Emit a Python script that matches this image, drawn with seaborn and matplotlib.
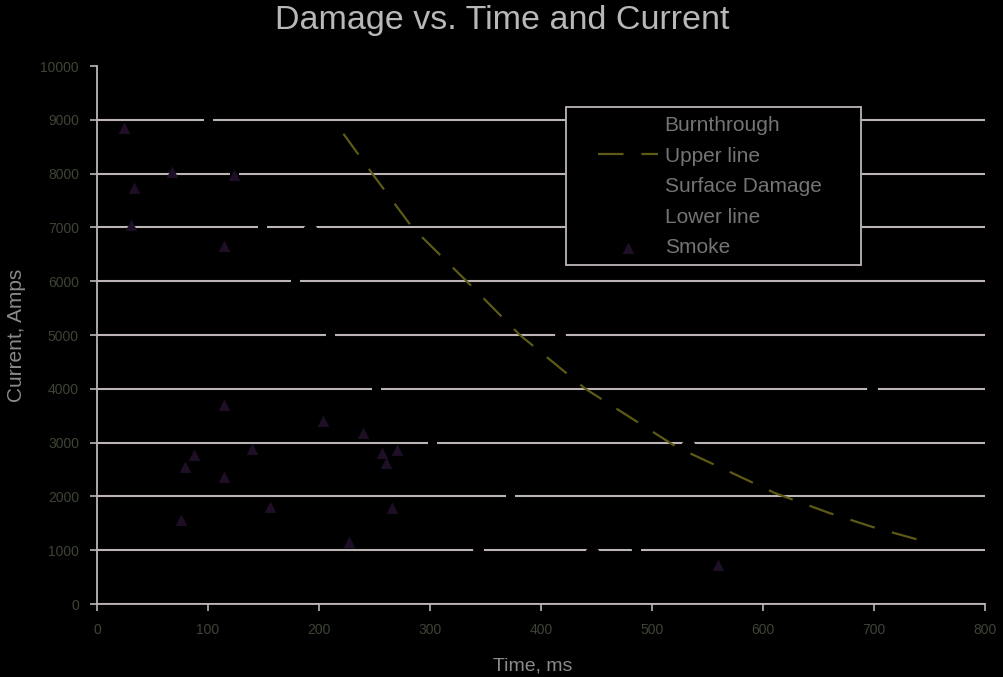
import matplotlib
matplotlib.use("Agg")
import matplotlib.pyplot as plt
import seaborn as sns
from matplotlib.patches import Rectangle

# values (time in ms, current in amps)
burn_time = [417, 698, 343]
burn_amps = [5000, 4000, 1000]

surface_time = [192, 446, 532]
surface_amps = [7000, 1000, 3000]

upper_time = [222, 248, 284, 333, 381, 440, 522, 611, 660, 699, 739]
upper_amps = [8740, 8000, 7000, 6000, 5000, 4000, 2920, 2060, 1690, 1430, 1200]

lower_time = [100, 123, 149, 178, 210, 251, 302, 372, 486]
lower_amps = [9000, 8000, 7000, 6000, 5000, 4000, 3000, 2000, 1000]

smoke_time = [24, 68, 123, 33, 31, 114, 114, 204, 240, 87, 79, 114, 140,
              257, 270, 260, 156, 266, 76, 227, 559]
smoke_amps = [8850, 8030, 7970, 7730, 7040, 6650, 3700, 3400, 3180, 2770,
              2550, 2360, 2880, 2800, 2860, 2620, 1800, 1780, 1560, 1150, 720]

x_ticks = list(range(0, 801, 100))
y_ticks = list(range(0, 10001, 1000))


def main():
    sns.set_theme(style="white")
    plt.rcParams["font.family"] = ["Liberation Sans", "DejaVu Sans"]

    fig = plt.figure(figsize=(10.04, 6.77), dpi=100, facecolor="black")
    ax = fig.add_axes([0.0966, 0.1078, 0.8845, 0.7947])
    ax.set_facecolor("black")

    grid_col = "#bdb5b5"
    smoke_col = "#1e0f26"
    ax.set_axisbelow(True)
    ax.yaxis.grid(True, color=grid_col, linewidth=1.5)
    ax.xaxis.grid(False)

    sns.scatterplot(x=burn_time, y=burn_amps, ax=ax, color="black", marker="s",
                    s=45, edgecolor="black", label="Burnthrough", zorder=3)
    sns.lineplot(x=upper_time, y=upper_amps, ax=ax, sort=False, color="#5c5a14",
                 linewidth=1.6, linestyle=(0, (11.5, 8)), label="Upper line", zorder=3)
    sns.scatterplot(x=surface_time, y=surface_amps, ax=ax, color="black", marker="D",
                    s=40, edgecolor="black", label="Surface Damage", zorder=3)
    sns.lineplot(x=lower_time, y=lower_amps, ax=ax, sort=False, color="black",
                 linewidth=1.5, marker="s", markersize=6, markerfacecolor="black",
                 markeredgecolor="black", label="Lower line", zorder=3)
    sns.scatterplot(x=smoke_time, y=smoke_amps, ax=ax, color=smoke_col, marker="^",
                    s=55, edgecolor=smoke_col, label="Smoke", zorder=4)

    ax.set_xlim(0, 800)
    ax.set_ylim(0, 10000)
    ax.set_xticks(x_ticks)
    ax.set_yticks(y_ticks)
    ax.get_ygridlines()[-1].set_visible(False)

    for side in ["top", "right"]:
        ax.spines[side].set_visible(False)
    for side in ["left", "bottom"]:
        ax.spines[side].set_color(grid_col)
        ax.spines[side].set_linewidth(1.3)
    ax.tick_params(axis="both", direction="out", length=5, width=1.2,
                   color=grid_col, labelcolor="#3e4436", labelsize=10,
                   left=True, bottom=True)
    ax.tick_params(axis="y", pad=8)
    ax.tick_params(axis="x", pad=9)

    fig.text(0.5, 0.969, "Damage vs. Time and Current", color="#b8b8b8",
             fontsize=24.5, ha="center", va="center")
    ax.set_xlabel("Time, ms", color="#8a8a8a", fontsize=14, labelpad=10)
    ax.xaxis.set_label_coords(0.491, -0.1)
    ax.set_ylabel("Current, Amps", color="#8a8a8a", fontsize=15)
    ax.yaxis.set_label_coords(-0.08, 0.5)

    # legend box drawn separately, entries placed inside it
    ax.add_patch(Rectangle((0.528, 0.630), 0.332, 0.294, transform=ax.transAxes,
                           facecolor="black", edgecolor=grid_col, linewidth=1.3,
                           zorder=5))
    handles, labels = ax.get_legend_handles_labels()
    leg = ax.legend(handles, labels, loc="upper left", bbox_to_anchor=(0.55, 0.93),
                    frameon=False, fontsize=15, handlelength=2.9,
                    handletextpad=0.3, labelspacing=0.55, borderpad=0.1)
    leg.set_zorder(6)
    for txt in leg.get_texts():
        txt.set_color("#747474")

    fig.savefig("out.png", dpi=100, facecolor="black")
    plt.close(fig)


if __name__ == "__main__":
    main()
